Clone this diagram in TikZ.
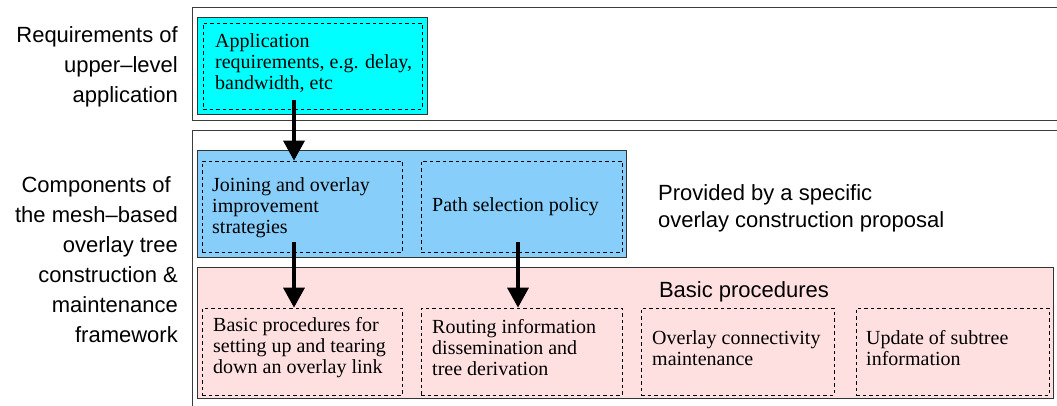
\documentclass[tikz,border=0pt]{standalone}
\usepackage{fontspec}
\setmainfont{Liberation Serif}
\setsansfont{Liberation Sans}
\usetikzlibrary{arrows.meta}
\definecolor{appcyan}{RGB}{0,255,255}
\definecolor{stratblue}{RGB}{135,206,250}
\definecolor{basicpink}{RGB}{255,224,224}
\definecolor{framegray}{RGB}{60,60,60}
\tikzset{
  frame/.style={draw=framegray, line width=0.9pt},
  fillbox/.style={draw=black!80, line width=0.9pt},
  dbox/.style={draw=black, dashed, dash pattern=on 3.5pt off 3pt, line width=0.7pt},
  boxtext/.style={font=\fontsize{20}{21}\selectfont\rmfamily, align=left, anchor=west, inner sep=0pt},
  sidetext/.style={font=\fontsize{22}{30}\selectfont\sffamily, align=right, anchor=east, inner sep=0pt},
  bigarrow/.style={line width=3.5pt, -{Triangle[length=20pt,width=21pt]}},
}
\begin{document}
\begin{tikzpicture}[x=1pt,y=-1pt]
\useasboundingbox (0,0) rectangle (1057,406);
% outer frames (open to the right)
\draw[frame] (1060,7) -- (192,7) -- (192,120) -- (1060,120);
\draw[frame] (1060,130) -- (192,130) -- (192,410);
% coloured panels
\path[fillbox, fill=appcyan] (197,17) rectangle (427,114);
\path[fillbox, fill=stratblue] (197,150) rectangle (626,257);
\path[fillbox, fill=basicpink] (197,267) rectangle (1053,398);
% dashed boxes
\node[dbox, minimum width=219pt, minimum height=86pt, inner sep=0pt] (app) at (312.5,66) {};
\node[dbox, minimum width=200pt, minimum height=91pt, inner sep=0pt] (join) at (302,206.5) {};
\node[dbox, minimum width=201pt, minimum height=91pt, inner sep=0pt] (path) at (521.5,206.5) {};
\node[dbox, minimum width=200pt, minimum height=87pt, inner sep=0pt] (setup) at (302,351.5) {};
\node[dbox, minimum width=201pt, minimum height=87pt, inner sep=0pt] (route) at (521.5,351.5) {};
\node[dbox, minimum width=193pt, minimum height=87pt, inner sep=0pt] (conn) at (737.5,351.5) {};
\node[dbox, minimum width=193pt, minimum height=87pt, inner sep=0pt] (subtree) at (952.5,351.5) {};
% texts in boxes
\node[boxtext] (tapp) at (215,63) {Application\\requirements, e.g. delay,\\bandwidth, etc};
\node[boxtext] (tjoin) at (212,208) {Joining and overlay\\improvement\\strategies};
\node[boxtext] (tpath) at (432,207) {Path selection policy};
\node[boxtext] (tsetup) at (213,348) {Basic procedures for\\setting up and tearing\\down an overlay link};
\node[boxtext] (troute) at (432,348) {Routing information\\dissemination and\\tree derivation};
\node[boxtext] (tconn) at (652,348) {Overlay connectivity\\maintenance};
\node[boxtext] (tsub) at (866,348) {Update of subtree\\information};
% other labels
\node[font=\fontsize{22}{27}\selectfont\sffamily, inner sep=0pt] (basic) at (744,292) {Basic procedures};
\node[font=\fontsize{22}{27}\selectfont\sffamily, align=left, anchor=west, inner sep=0pt] (prov) at (658,208) {Provided by a specific\\overlay construction proposal};
\node[sidetext] (req) at (178,67) {Requirements of\\upper\textendash level\\application};
\node[sidetext] (comp) at (178,260) {Components of\hspace*{7pt}\\the mesh\textendash based\hspace*{2pt}\\overlay tree\hspace*{2pt}\\construction \&\hspace*{10pt}\\maintenance\\framework};
% arrows
\coordinate (a1s) at (294,100);
\coordinate (a2s) at (294,242);
\coordinate (a3s) at (518,242);
\draw[bigarrow] (a1s) -- (join.north -| a1s);
\draw[bigarrow] (a2s) -- (setup.north -| a2s);
\draw[bigarrow] (a3s) -- (route.north -| a3s);
\end{tikzpicture}
\end{document}
